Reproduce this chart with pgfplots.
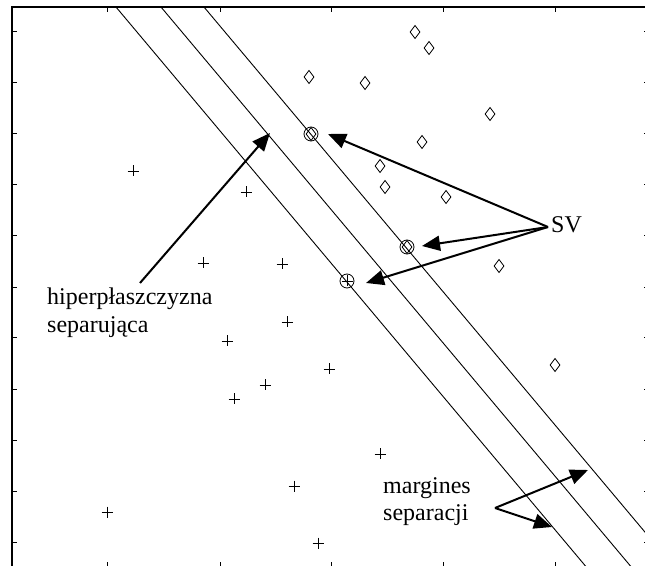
\documentclass[border=0pt]{standalone}
\usepackage{fontspec}
\setmainfont{Liberation Serif}
\usepackage{pgfplots}
\pgfplotsset{compat=1.18}
\usetikzlibrary{arrows.meta}
\begin{document}
\begin{tikzpicture}[x=1pt,y=1pt]
\path[use as bounding box] (0,0) rectangle (645,565);
\clip (0,0) rectangle (645,565);
\begin{axis}[
  at={(12pt,-2pt)}, anchor=south west,
  scale only axis, width=637pt, height=560pt,
  xmin=12, xmax=649, ymin=-2, ymax=558,
  xtick={107,220,331,443,555},
  ytick={23,74,124.5,176,228,278,329.5,381,432,483,533.5},
  xticklabels={}, yticklabels={},
  tick align=inside, major tick length=5pt,
  every tick/.style={black, line width=0.9pt},
  axis line style={line width=2pt},
  clip=true,
]
% margin and separating lines
\addplot[black, line width=0.9pt, no marks] coordinates {(93.3,585) (614,-35)};
\addplot[black, line width=0.9pt, no marks] coordinates {(138.3,585) (659,-35)};
\addplot[black, line width=0.9pt, no marks] coordinates {(181.3,585) (702,-35)};
% class +
\addplot[only marks, mark=+, mark size=5.5pt, mark options={line width=0.8pt, black}] coordinates {
(133,394) (246,373) (203,302) (282,301) (287,243) (227,224) (329,196)
(265,180) (234,166) (380,111) (294,79) (107,53) (318,22) (347,284)};
% class diamond
\addplot[only marks, mark=diamond, mark size=6.5pt, mark options={line width=0.8pt, black}] coordinates {
(415,533) (429,517) (309,488) (365,482) (490,451) (422,423) (380,399)
(385,378) (446,368) (499,299) (555,200) (311,431) (407,318)};
% support vectors circled
\addplot[only marks, mark=o, mark size=7pt, mark options={line width=0.8pt, black}] coordinates {
(311,431) (407,318) (347,284)};
% arrows
\draw[line width=2pt, -{Triangle[length=18pt,width=15pt]}] (axis cs:140,282) -- (axis cs:270,432);
\draw[line width=2pt, -{Triangle[length=18pt,width=15pt]}] (axis cs:548,338) -- (axis cs:328,431);
\draw[line width=2pt, -{Triangle[length=18pt,width=15pt]}] (axis cs:548,338) -- (axis cs:422,319);
\draw[line width=2pt, -{Triangle[length=18pt,width=15pt]}] (axis cs:548,338) -- (axis cs:366,282);
\draw[line width=2pt, -{Triangle[length=18pt,width=15pt]}] (axis cs:495,57) -- (axis cs:588,95);
\draw[line width=2pt, -{Triangle[length=18pt,width=15pt]}] (axis cs:495,57) -- (axis cs:552,38);
% texts
\node[anchor=base west, inner sep=0pt, font=\fontsize{24}{28}\selectfont] at (axis cs:47,260) {hiperpłaszczyzna};
\node[anchor=base west, inner sep=0pt, font=\fontsize{24}{28}\selectfont] at (axis cs:47,232) {separująca};
\node[anchor=base west, inner sep=0pt, font=\fontsize{24}{28}\selectfont] at (axis cs:383,72) {margines};
\node[anchor=base west, inner sep=0pt, font=\fontsize{24}{28}\selectfont] at (axis cs:383,45) {separacji};
\node[anchor=base west, inner sep=0pt, font=\fontsize{24}{28}\selectfont] at (axis cs:551,332) {SV};
\end{axis}
\end{tikzpicture}
\end{document}
